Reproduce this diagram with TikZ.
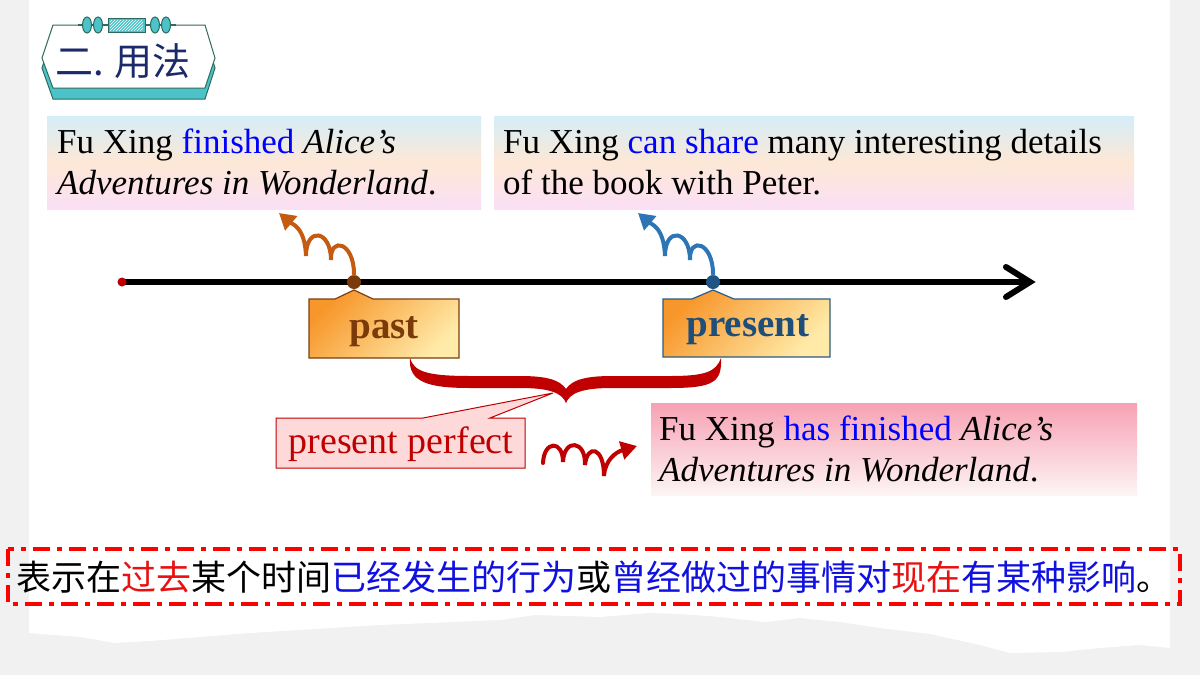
\documentclass[tikz,border=0pt]{standalone}
\usepackage{fontspec}
\setmainfont{Liberation Serif}
\newfontfamily\cjk{Noto Sans CJK SC}
\usetikzlibrary{arrows.meta,patterns,shapes.geometric}
\definecolor{paper}{HTML}{F1F1F1}
\definecolor{badgeteal}{HTML}{4CC3C9}
\definecolor{badgeline}{HTML}{2E6B5E}
\definecolor{navy}{HTML}{1B2A6B}
\definecolor{skytop}{HTML}{D4EDF9}
\definecolor{skymid}{HTML}{FDE8D6}
\definecolor{skybot}{HTML}{FBDFF6}
\definecolor{rosetop}{HTML}{F7A1B3}
\definecolor{rosebot}{HTML}{FDF5F5}
\definecolor{orangeA}{HTML}{F7962A}
\definecolor{orangeB}{HTML}{FFEAA8}
\definecolor{pastline}{HTML}{7B3F10}
\definecolor{pasttext}{HTML}{7B3A0A}
\definecolor{presline}{HTML}{2F5C80}
\definecolor{prestext}{HTML}{1F4E79}
\definecolor{pastdot}{HTML}{7B3A0A}
\definecolor{presdot}{HTML}{1F5585}
\definecolor{squigbrown}{HTML}{C55A11}
\definecolor{squigblue}{HTML}{2E75B6}
\definecolor{darkred}{HTML}{C00000}
\definecolor{calloutfill}{HTML}{FDD9DA}
\definecolor{textblue}{HTML}{0000FF}
\definecolor{cjkblue}{HTML}{1010E0}
\definecolor{cjkred}{HTML}{E81010}
\definecolor{dashred}{HTML}{FF0000}
\begin{document}
\begin{tikzpicture}[x=1pt,y=-1pt,
  engtext/.style={inner sep=0pt, anchor=base west, font=\fontsize{35}{41}\selectfont},
  skybox/.style={draw=none, top color=skytop, bottom color=skybot, middle color=skymid, inner sep=0pt},
  tagbox/.style={line width=1.2pt, top color=orangeA, bottom color=orangeB, shading angle=45},
  squig/.style={line width=4pt, line cap=round, -{Triangle[length=16pt,width=18pt]}},
  dot/.style={circle, inner sep=0pt, minimum size=14pt},
  oval/.style={ellipse, draw=badgeline, fill=badgeteal, line width=1pt, minimum width=9pt, minimum height=16pt, inner sep=0pt}
]
\useasboundingbox (0,0) rectangle (1200,675);
% background paper
\fill[paper] (0,0) rectangle (1200,675);
\fill[white] (29,0) -- (1170,0) -- (1170,648) -- (1140,645) -- (1100,648) -- (1060,652) -- (1010,653) -- (980,645) -- (930,634) -- (880,628) -- (840,622) -- (800,618) -- (765,622) -- (720,617) -- (680,614) -- (650,613) -- (600,617) -- (535,615) -- (500,620) -- (430,623) -- (380,625) -- (300,630) -- (250,633) -- (200,637) -- (150,641) -- (115,643) -- (80,637) -- (40,634) -- (29,633) -- cycle;

% title badge
\draw[badgeline, line width=1pt, fill=badgeteal] (42,68) -- (53,35) -- (205,35) -- (215,68) -- (205,99) -- (53,99) -- cycle;
\draw[badgeline, line width=1pt, fill=white] (42,58) -- (53,25) -- (205,25) -- (215,58) -- (205,88) -- (53,88) -- cycle;
\draw[badgeline, line width=1.2pt] (78,25) -- (176,25);
\node[oval] (o1) at (87,25) {};
\node[oval] (o2) at (98,25) {};
\node[oval] (o3) at (155,25) {};
\node[oval] (o4) at (166,25) {};
\path[draw=badgeline, line width=1pt, fill=badgeteal] (108,18) rectangle (145,32);
\path[pattern=north east lines, pattern color=white] (110,20) rectangle (143,30);
\node[inner sep=0pt, font=\cjk\fontsize{38}{38}\selectfont, text=navy] (title) at (123,61) {二. 用法};

% top boxes
\path[skybox] (47,116) rectangle (481,209);
\node[engtext] (t1a) at (57,153) {Fu Xing \textcolor{textblue}{finished} \textit{Alice’s}};
\node[engtext] (t1b) at (57,194) {\textit{Adventures in Wonderland}.};
\path[skybox] (494,116) rectangle (1134,209);
\node[engtext] (t2a) at (503,153) {Fu Xing \textcolor{textblue}{can share} many interesting details};
\node[engtext] (t2b) at (503,194) {of the book with Peter.};

% timeline
\coordinate (tl0) at (122,282);
\coordinate (tl1) at (1030,282);
\draw[line width=6pt] (tl0) -- (tl1);
\draw[line width=6pt, line cap=round, line join=miter] ([xshift=-24pt,yshift=15pt]tl1) -- (tl1) -- ([xshift=-24pt,yshift=-15pt]tl1);
\node[dot, fill=darkred, minimum size=9pt] (start) at (tl0) {};

% tag boxes
\path[tagbox, draw=pastline] (309,299) -- (335,299) -- (354,290) -- (373,299) -- (459,299) -- (459,358) -- (309,358) -- cycle;
\node[inner sep=0pt, anchor=base, font=\fontsize{39}{39}\selectfont\bfseries, text=pasttext] (past) at (384,338) {past};
\path[tagbox, draw=presline] (663,299) -- (692,299) -- (713,290) -- (734,299) -- (830,299) -- (830,357) -- (663,357) -- cycle;
\node[inner sep=0pt, anchor=base, font=\fontsize{39}{39}\selectfont\bfseries, text=prestext] (present) at (748,336) {present};

% dots
\node[dot, fill=pastdot] (dpast) at (354,282) {};
\node[dot, fill=presdot] (dpres) at (713,282) {};

% squiggly arrows
\begin{scope}[shift={(dpast.center)}]
\draw[squig, squigbrown] (0,-8) .. controls (0,-40) and (-24,-46) .. (-23,-22) .. controls (-23,-52) and (-48,-56) .. (-48,-26) .. controls (-49,-55) and (-62,-58) .. (-75,-69);
\end{scope}
\begin{scope}[shift={(dpres.center)}]
\draw[squig, squigblue] (0,-8) .. controls (0,-40) and (-24,-46) .. (-23,-22) .. controls (-23,-52) and (-48,-56) .. (-48,-26) .. controls (-49,-55) and (-62,-58) .. (-75,-69);
\end{scope}

% brace
\fill[darkred] (410,358) .. controls (408,382) and (428,388) .. (470,388) -- (520,388) .. controls (550,388) and (562,393) .. (566,403)
  .. controls (570,393) and (582,388) .. (612,388) -- (670,388) .. controls (714,388) and (722,382) .. (721,358)
  .. controls (716,372) and (705,376) .. (670,376) -- (612,376) .. controls (585,376) and (572,380) .. (566,389)
  .. controls (560,380) and (547,376) .. (520,376) -- (470,376) .. controls (425,376) and (414,371) .. (410,358) -- cycle;

% callout
\path[draw=darkred, line width=1pt, fill=calloutfill] (276,418) -- (423,418) -- (553,393) -- (490,418) -- (525,418) -- (525,468) -- (276,468) -- cycle;
\node[inner sep=0pt, anchor=base, font=\fontsize{38}{38}\selectfont, text=darkred] (pp) at (401,453) {present perfect};

% red squiggle
\coordinate (rs0) at (543,463);
\coordinate (rs1) at (637,446);
\draw[squig, darkred] (rs0) .. controls (544,440) and (563,440) .. (563,462) .. controls (564,438) and (586,440) .. (585,465) .. controls (587,444) and (604,446) .. (604,476) .. controls (605,460) and (616,452) .. (rs1);

% bottom-right box
\path[draw=none, top color=rosetop, bottom color=rosebot] (651,403) rectangle (1137,495);
\node[engtext] (t3a) at (659,440) {Fu Xing \textcolor{textblue}{has finished} \textit{Alice’s}};
\node[engtext] (t3b) at (659,481) {\textit{Adventures in Wonderland}.};

% dashed note
\draw[dashred, line width=3.5pt, dash pattern=on 17pt off 7pt on 5pt off 7pt] (8,549) rectangle (1180,604);
\node[inner sep=0pt, anchor=west, font=\cjk\fontsize{35}{35}\selectfont] (note) at (16,577) {表示在\textcolor{cjkred}{过去}某个时间\textcolor{cjkblue}{已经发生的行为}或\textcolor{cjkblue}{曾经做过的事情对}\textcolor{cjkred}{现在}\textcolor{cjkblue}{有某种影响}。};
\end{tikzpicture}
\end{document}
